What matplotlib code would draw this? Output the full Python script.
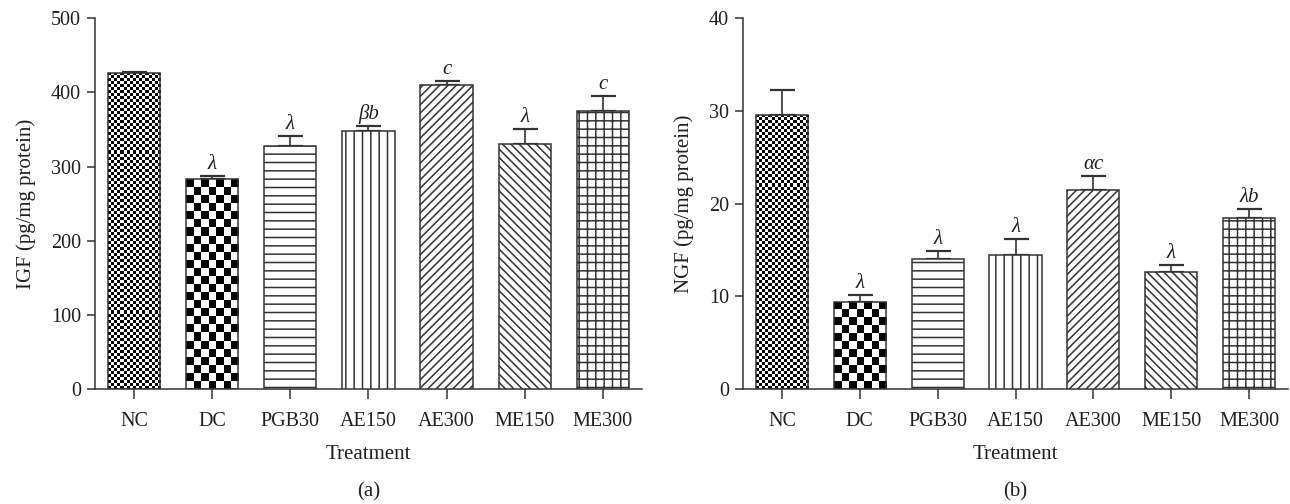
import numpy as np
import matplotlib
matplotlib.use('Agg')
import matplotlib.pyplot as plt

# data
cats = ['NC', 'DC', 'PGB30', 'AE150', 'AE300', 'ME150', 'ME300']
igf = [426, 283, 328, 348, 410, 330, 375]
igf_err = [2, 4, 13, 6, 5, 21, 20]
igf_marks = ['', 'λ', 'λ', 'βb', 'c', 'λ', 'c']
ngf = [29.6, 9.4, 14.0, 14.5, 21.5, 12.6, 18.5]
ngf_err = [2.7, 0.7, 0.9, 1.7, 1.5, 0.8, 0.9]
ngf_marks = ['', 'λ', 'λ', 'λ', 'αc', 'λ', 'λb']

# fill style per group: checker cell size in px, or a hatch
fills = [('checker', 3), ('checker', 8), ('hatch', '--'), ('hatch', '||'),
         ('hatch', '////'), ('hatch', '\\\\\\\\'), ('hatch', '++')]

ink = '#231f20'
edge = '#333333'
plt.rcParams['font.family'] = ['Liberation Serif', 'DejaVu Serif']
plt.rcParams['hatch.linewidth'] = 1.1
plt.rcParams['hatch.color'] = edge
plt.rcParams['text.color'] = ink
plt.rcParams['axes.labelcolor'] = ink
plt.rcParams['xtick.color'] = edge
plt.rcParams['ytick.color'] = edge
plt.rcParams['xtick.labelcolor'] = ink
plt.rcParams['ytick.labelcolor'] = ink


def checker(ax, bar, cell):
    x0, y0 = bar.get_x(), bar.get_y()
    w, h = bar.get_width(), bar.get_height()
    (px0, py0), (px1, py1) = ax.transData.transform([(x0, y0), (x0 + w, y0 + h)])
    nx = max(1, int(round((px1 - px0) / cell)))
    ny = max(1, int(round((py1 - py0) / cell)))
    board = np.indices((ny, nx)).sum(axis=0) % 2
    im = ax.imshow(board, cmap='gray', extent=(x0, x0 + w, y0, y0 + h),
                   aspect='auto', interpolation='nearest', zorder=2)
    im.set_clip_path(bar)


def panel(ax, vals, errs, marks, ymax, ystep, ylabel):
    x = np.arange(len(cats))
    ax.set_xlim(-0.5, 6.5)
    ax.set_ylim(0, ymax)
    ax.set_autoscale_on(False)
    ax.errorbar(x, vals, yerr=[np.zeros(len(x)), errs], fmt='none', ecolor=edge,
                elinewidth=1.2, capsize=9, capthick=1.6, zorder=1)
    bars = ax.bar(x, vals, width=0.67, color='white', edgecolor=edge,
                  linewidth=1.1, zorder=3)
    for b, (kind, spec) in zip(bars, fills):
        if kind == 'checker':
            b.set_facecolor('none')
            checker(ax, b, spec)
        else:
            b.set_hatch(spec)
    for xi, v, e, m in zip(x, vals, errs, marks):
        if m:
            ax.annotate(m, (xi, v + e), xytext=(0, 1.5), textcoords='offset points',
                        ha='center', va='bottom', fontsize=15, style='italic')
    ax.set_xticks(x)
    ax.set_xticklabels(cats, fontsize=14.5)
    ax.set_yticks(np.arange(0, ymax + ystep / 2, ystep))
    ax.tick_params(axis='y', labelsize=14.5, length=6, width=1.1, pad=4)
    ax.tick_params(axis='x', length=7.5, width=1.1, pad=9)
    ax.spines['top'].set_visible(False)
    ax.spines['right'].set_visible(False)
    for s in ('left', 'bottom'):
        ax.spines[s].set_linewidth(1.1)
        ax.spines[s].set_color(edge)
    ax.set_ylabel(ylabel, fontsize=15, labelpad=11)
    ax.set_xlabel('Treatment', fontsize=15, labelpad=10)


fig = plt.figure(figsize=(12.9, 5.04), dpi=100)
ax1 = fig.add_axes([0.0736, 0.228, 0.424, 0.736])
ax2 = fig.add_axes([0.576, 0.228, 0.4225, 0.736])
panel(ax1, igf, igf_err, igf_marks, 500, 100, 'IGF (pg/mg protein)')
panel(ax2, ngf, ngf_err, ngf_marks, 40, 10, 'NGF (pg/mg protein)')
fig.text(0.0736 + 0.424 / 2, 0.024, '(a)', ha='center', va='center', fontsize=15)
fig.text(0.576 + 0.4225 / 2, 0.024, '(b)', ha='center', va='center', fontsize=15)

fig.savefig('out.png', dpi=100)
